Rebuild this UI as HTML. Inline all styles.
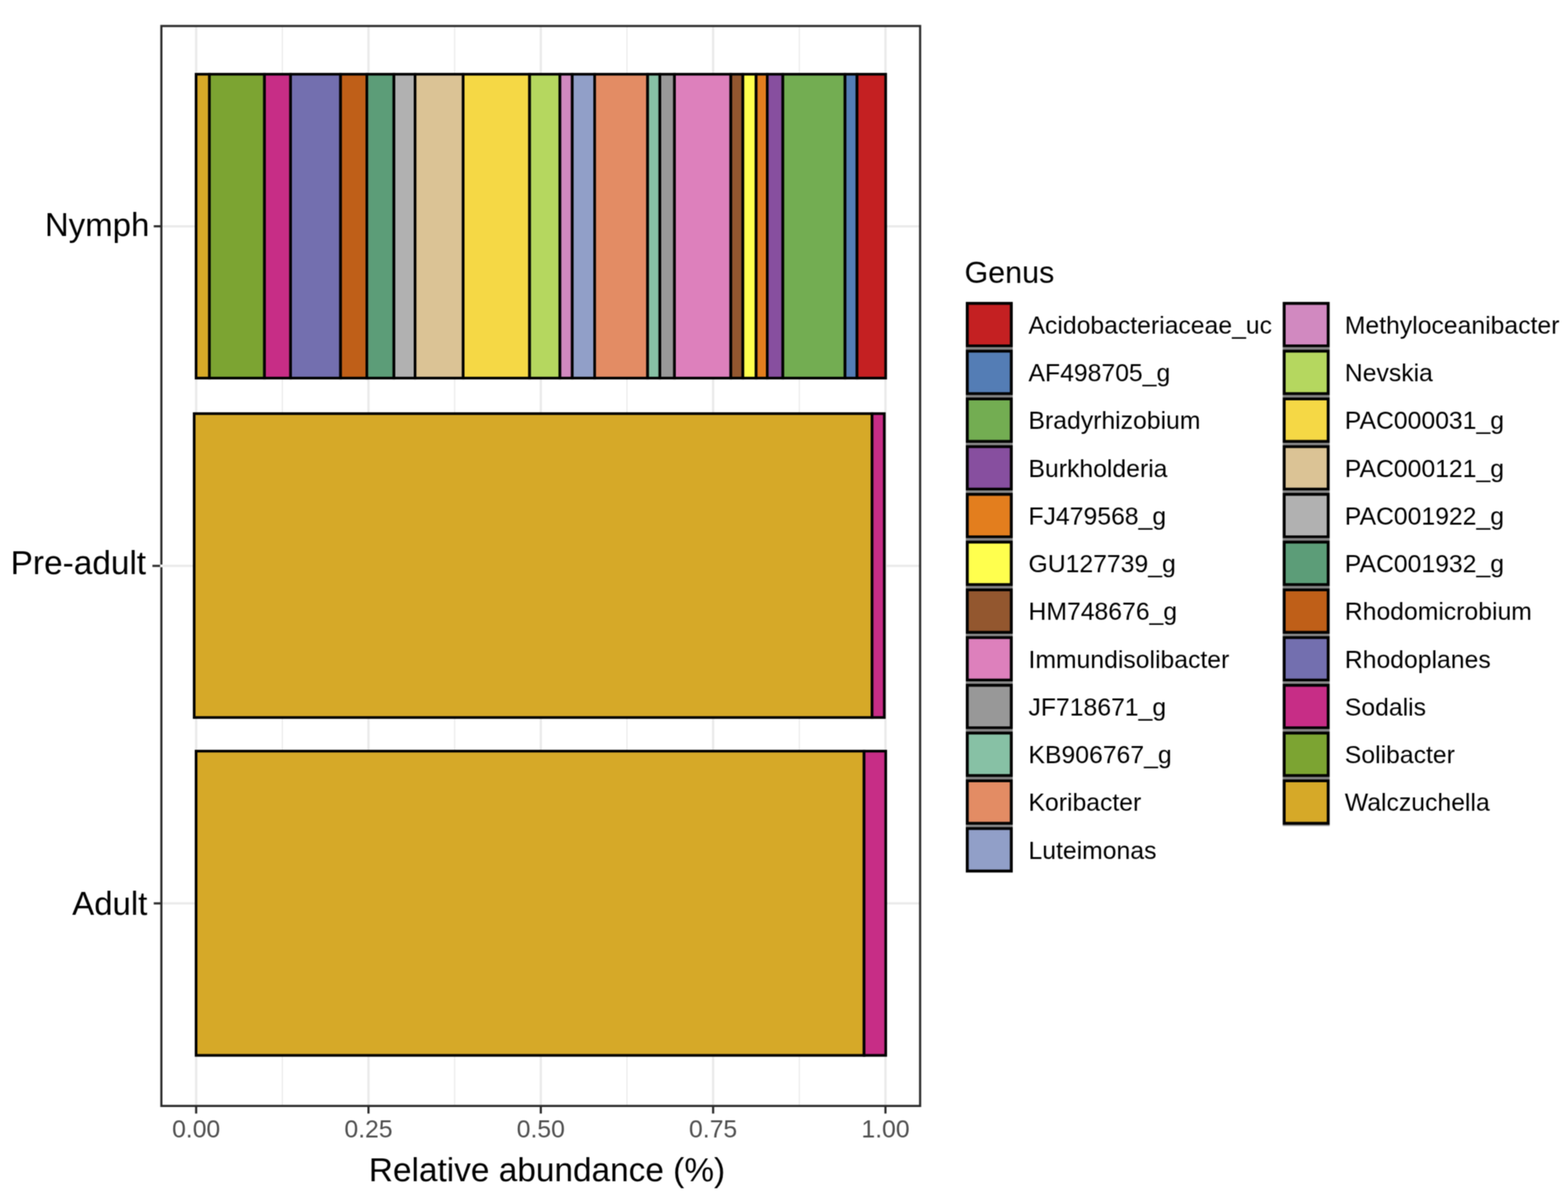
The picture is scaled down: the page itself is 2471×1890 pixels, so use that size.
<!DOCTYPE html>
<html><head><meta charset="utf-8"><title>Relative abundance</title><style>html,body{margin:0;padding:0;background:#fff;}svg{display:block;}</style></head><body>
<svg width="2471" height="1890" viewBox="0 0 2471 1890">
<defs><filter id="sm" color-interpolation-filters="sRGB" x="0" y="0" width="100%" height="100%" filterUnits="userSpaceOnUse" primitiveUnits="userSpaceOnUse"><feConvolveMatrix order="3" kernelMatrix="1 2 1 2 4 2 1 2 1" edgeMode="duplicate" preserveAlpha="true"/></filter></defs>
<g filter="url(#sm)">
<rect x="0" y="0" width="2471" height="1890" fill="#FFFFFF"/>
<line x1="444.89" y1="41.0" x2="444.89" y2="1743.3" stroke="#EAEAEA" stroke-width="1.8"/>
<line x1="716.46" y1="41.0" x2="716.46" y2="1743.3" stroke="#EAEAEA" stroke-width="1.8"/>
<line x1="988.04" y1="41.0" x2="988.04" y2="1743.3" stroke="#EAEAEA" stroke-width="1.8"/>
<line x1="1259.61" y1="41.0" x2="1259.61" y2="1743.3" stroke="#EAEAEA" stroke-width="1.8"/>
<line x1="309.10" y1="41.0" x2="309.10" y2="1743.3" stroke="#EAEAEA" stroke-width="3.6"/>
<line x1="580.67" y1="41.0" x2="580.67" y2="1743.3" stroke="#EAEAEA" stroke-width="3.6"/>
<line x1="852.25" y1="41.0" x2="852.25" y2="1743.3" stroke="#EAEAEA" stroke-width="3.6"/>
<line x1="1123.82" y1="41.0" x2="1123.82" y2="1743.3" stroke="#EAEAEA" stroke-width="3.6"/>
<line x1="1395.40" y1="41.0" x2="1395.40" y2="1743.3" stroke="#EAEAEA" stroke-width="3.6"/>
<line x1="254.3" y1="356.7" x2="1450" y2="356.7" stroke="#EAEAEA" stroke-width="3.6"/>
<line x1="254.3" y1="892.0" x2="1450" y2="892.0" stroke="#EAEAEA" stroke-width="3.6"/>
<line x1="254.3" y1="1424.0" x2="1450" y2="1424.0" stroke="#EAEAEA" stroke-width="3.6"/>
<rect x="309.00" y="117.00" width="21.00" height="479.00" fill="#D6A928" stroke="#000" stroke-width="4.2"/>
<rect x="330.00" y="117.00" width="86.80" height="479.00" fill="#7CA432" stroke="#000" stroke-width="4.2"/>
<rect x="416.80" y="117.00" width="41.10" height="479.00" fill="#C72D86" stroke="#000" stroke-width="4.2"/>
<rect x="457.90" y="117.00" width="78.80" height="479.00" fill="#736FAF" stroke="#000" stroke-width="4.2"/>
<rect x="536.70" y="117.00" width="41.40" height="479.00" fill="#BF5F18" stroke="#000" stroke-width="4.2"/>
<rect x="578.10" y="117.00" width="42.70" height="479.00" fill="#5C9D78" stroke="#000" stroke-width="4.2"/>
<rect x="620.80" y="117.00" width="33.30" height="479.00" fill="#B1B1B1" stroke="#000" stroke-width="4.2"/>
<rect x="654.10" y="117.00" width="75.80" height="479.00" fill="#DBC395" stroke="#000" stroke-width="4.2"/>
<rect x="729.90" y="117.00" width="104.70" height="479.00" fill="#F5D845" stroke="#000" stroke-width="4.2"/>
<rect x="834.60" y="117.00" width="47.80" height="479.00" fill="#B5D75F" stroke="#000" stroke-width="4.2"/>
<rect x="882.40" y="117.00" width="19.40" height="479.00" fill="#D189C0" stroke="#000" stroke-width="4.2"/>
<rect x="901.80" y="117.00" width="35.30" height="479.00" fill="#919FC8" stroke="#000" stroke-width="4.2"/>
<rect x="937.10" y="117.00" width="83.50" height="479.00" fill="#E38C64" stroke="#000" stroke-width="4.2"/>
<rect x="1020.60" y="117.00" width="19.30" height="479.00" fill="#87C1A5" stroke="#000" stroke-width="4.2"/>
<rect x="1039.90" y="117.00" width="23.00" height="479.00" fill="#989898" stroke="#000" stroke-width="4.2"/>
<rect x="1062.90" y="117.00" width="88.80" height="479.00" fill="#DD80BC" stroke="#000" stroke-width="4.2"/>
<rect x="1151.70" y="117.00" width="19.00" height="479.00" fill="#93572F" stroke="#000" stroke-width="4.2"/>
<rect x="1170.70" y="117.00" width="20.90" height="479.00" fill="#FFFF4E" stroke="#000" stroke-width="4.2"/>
<rect x="1191.60" y="117.00" width="17.50" height="479.00" fill="#E37E1E" stroke="#000" stroke-width="4.2"/>
<rect x="1209.10" y="117.00" width="24.60" height="479.00" fill="#874F9F" stroke="#000" stroke-width="4.2"/>
<rect x="1233.70" y="117.00" width="98.00" height="479.00" fill="#73AD52" stroke="#000" stroke-width="4.2"/>
<rect x="1331.70" y="117.00" width="18.90" height="479.00" fill="#547DB5" stroke="#000" stroke-width="4.2"/>
<rect x="1350.60" y="117.00" width="45.10" height="479.00" fill="#C42022" stroke="#000" stroke-width="4.2"/>
<rect x="306.00" y="652.00" width="1068.30" height="479.00" fill="#D6A928" stroke="#000" stroke-width="4.2"/>
<rect x="1374.30" y="652.00" width="19.30" height="479.00" fill="#C72D86" stroke="#000" stroke-width="4.2"/>
<rect x="309.00" y="1184.00" width="1052.70" height="479.60" fill="#D6A928" stroke="#000" stroke-width="4.2"/>
<rect x="1361.70" y="1184.00" width="34.10" height="479.60" fill="#C72D86" stroke="#000" stroke-width="4.2"/>
<rect x="254.3" y="41.0" width="1195.7" height="1702.3" fill="none" stroke="#2a2a2a" stroke-width="3.4"/>
<line x1="242.3" y1="356.7" x2="254.3" y2="356.7" stroke="#2a2a2a" stroke-width="3.4"/>
<rect x="252.2" y="889.9" width="5.4" height="4.3" fill="#F2F2F2"/>
<line x1="240.2" y1="892.0" x2="252.2" y2="892.0" stroke="#2a2a2a" stroke-width="3.4"/>
<line x1="242.3" y1="1424.0" x2="254.3" y2="1424.0" stroke="#2a2a2a" stroke-width="3.4"/>
<line x1="309.10" y1="1743.3" x2="309.10" y2="1755.3" stroke="#2a2a2a" stroke-width="3.4"/>
<line x1="580.67" y1="1743.3" x2="580.67" y2="1755.3" stroke="#2a2a2a" stroke-width="3.4"/>
<line x1="852.25" y1="1743.3" x2="852.25" y2="1755.3" stroke="#2a2a2a" stroke-width="3.4"/>
<line x1="1123.82" y1="1743.3" x2="1123.82" y2="1755.3" stroke="#2a2a2a" stroke-width="3.4"/>
<line x1="1395.40" y1="1743.3" x2="1395.40" y2="1755.3" stroke="#2a2a2a" stroke-width="3.4"/>
<text x="235.4" y="371.5" font-family="Liberation Sans, Arial, Helvetica, sans-serif" font-size="52" fill="#000" text-anchor="end">Nymph</text>
<text x="230.2" y="904.5" font-family="Liberation Sans, Arial, Helvetica, sans-serif" font-size="52.6" fill="#000" text-anchor="end">Pre-adult</text>
<text x="232.3" y="1441.5" font-family="Liberation Sans, Arial, Helvetica, sans-serif" font-size="52" fill="#000" text-anchor="end">Adult</text>
<text x="309.10" y="1793" font-family="Liberation Sans, Arial, Helvetica, sans-serif" font-size="39" fill="#4E4E4E" text-anchor="middle">0.00</text>
<text x="580.67" y="1793" font-family="Liberation Sans, Arial, Helvetica, sans-serif" font-size="39" fill="#4E4E4E" text-anchor="middle">0.25</text>
<text x="852.25" y="1793" font-family="Liberation Sans, Arial, Helvetica, sans-serif" font-size="39" fill="#4E4E4E" text-anchor="middle">0.50</text>
<text x="1123.82" y="1793" font-family="Liberation Sans, Arial, Helvetica, sans-serif" font-size="39" fill="#4E4E4E" text-anchor="middle">0.75</text>
<text x="1395.40" y="1793" font-family="Liberation Sans, Arial, Helvetica, sans-serif" font-size="39" fill="#4E4E4E" text-anchor="middle">1.00</text>
<text x="862.0" y="1862" font-family="Liberation Sans, Arial, Helvetica, sans-serif" font-size="52.6" fill="#000" text-anchor="middle">Relative abundance (%)</text>
<text x="1520" y="446.3" font-family="Liberation Sans, Arial, Helvetica, sans-serif" font-size="48" fill="#000">Genus</text>
<rect x="1522" y="475.90" width="74" height="71.7" fill="#000"/>
<rect x="1526.6" y="480.50" width="64.8" height="62.5" fill="#C42022"/>
<rect x="1522" y="547.60" width="74" height="3.55" fill="#858585"/>
<text x="1620.8" y="525.90" font-family="Liberation Sans, Arial, Helvetica, sans-serif" font-size="39" fill="#000">Acidobacteriaceae_uc</text>
<rect x="1522" y="551.15" width="74" height="71.7" fill="#000"/>
<rect x="1526.6" y="555.75" width="64.8" height="62.5" fill="#547DB5"/>
<rect x="1522" y="622.85" width="74" height="3.55" fill="#858585"/>
<text x="1620.8" y="601.15" font-family="Liberation Sans, Arial, Helvetica, sans-serif" font-size="39" fill="#000">AF498705_g</text>
<rect x="1522" y="626.40" width="74" height="71.7" fill="#000"/>
<rect x="1526.6" y="631.00" width="64.8" height="62.5" fill="#73AD52"/>
<rect x="1522" y="698.10" width="74" height="3.55" fill="#858585"/>
<text x="1620.8" y="676.40" font-family="Liberation Sans, Arial, Helvetica, sans-serif" font-size="39" fill="#000">Bradyrhizobium</text>
<rect x="1522" y="701.65" width="74" height="71.7" fill="#000"/>
<rect x="1526.6" y="706.25" width="64.8" height="62.5" fill="#874F9F"/>
<rect x="1522" y="773.35" width="74" height="3.55" fill="#858585"/>
<text x="1620.8" y="751.65" font-family="Liberation Sans, Arial, Helvetica, sans-serif" font-size="39" fill="#000">Burkholderia</text>
<rect x="1522" y="776.90" width="74" height="71.7" fill="#000"/>
<rect x="1526.6" y="781.50" width="64.8" height="62.5" fill="#E37E1E"/>
<rect x="1522" y="848.60" width="74" height="3.55" fill="#858585"/>
<text x="1620.8" y="826.90" font-family="Liberation Sans, Arial, Helvetica, sans-serif" font-size="39" fill="#000">FJ479568_g</text>
<rect x="1522" y="852.15" width="74" height="71.7" fill="#000"/>
<rect x="1526.6" y="856.75" width="64.8" height="62.5" fill="#FFFF4E"/>
<rect x="1522" y="923.85" width="74" height="3.55" fill="#858585"/>
<text x="1620.8" y="902.15" font-family="Liberation Sans, Arial, Helvetica, sans-serif" font-size="39" fill="#000">GU127739_g</text>
<rect x="1522" y="927.40" width="74" height="71.7" fill="#000"/>
<rect x="1526.6" y="932.00" width="64.8" height="62.5" fill="#93572F"/>
<rect x="1522" y="999.10" width="74" height="3.55" fill="#858585"/>
<text x="1620.8" y="977.40" font-family="Liberation Sans, Arial, Helvetica, sans-serif" font-size="39" fill="#000">HM748676_g</text>
<rect x="1522" y="1002.65" width="74" height="71.7" fill="#000"/>
<rect x="1526.6" y="1007.25" width="64.8" height="62.5" fill="#DD80BC"/>
<rect x="1522" y="1074.35" width="74" height="3.55" fill="#858585"/>
<text x="1620.8" y="1052.65" font-family="Liberation Sans, Arial, Helvetica, sans-serif" font-size="39" fill="#000">Immundisolibacter</text>
<rect x="1522" y="1077.90" width="74" height="71.7" fill="#000"/>
<rect x="1526.6" y="1082.50" width="64.8" height="62.5" fill="#989898"/>
<rect x="1522" y="1149.60" width="74" height="3.55" fill="#858585"/>
<text x="1620.8" y="1127.90" font-family="Liberation Sans, Arial, Helvetica, sans-serif" font-size="39" fill="#000">JF718671_g</text>
<rect x="1522" y="1153.15" width="74" height="71.7" fill="#000"/>
<rect x="1526.6" y="1157.75" width="64.8" height="62.5" fill="#87C1A5"/>
<rect x="1522" y="1224.85" width="74" height="3.55" fill="#858585"/>
<text x="1620.8" y="1203.15" font-family="Liberation Sans, Arial, Helvetica, sans-serif" font-size="39" fill="#000">KB906767_g</text>
<rect x="1522" y="1228.40" width="74" height="71.7" fill="#000"/>
<rect x="1526.6" y="1233.00" width="64.8" height="62.5" fill="#E38C64"/>
<rect x="1522" y="1300.10" width="74" height="3.55" fill="#858585"/>
<text x="1620.8" y="1278.40" font-family="Liberation Sans, Arial, Helvetica, sans-serif" font-size="39" fill="#000">Koribacter</text>
<rect x="1522" y="1303.65" width="74" height="71.7" fill="#000"/>
<rect x="1526.6" y="1308.25" width="64.8" height="62.5" fill="#919FC8"/>
<text x="1620.8" y="1353.65" font-family="Liberation Sans, Arial, Helvetica, sans-serif" font-size="39" fill="#000">Luteimonas</text>
<rect x="2021.4" y="475.90" width="74" height="71.7" fill="#000"/>
<rect x="2026.0" y="480.50" width="64.8" height="62.5" fill="#D189C0"/>
<rect x="2021.4" y="547.60" width="74" height="3.55" fill="#858585"/>
<text x="2119.3" y="525.90" font-family="Liberation Sans, Arial, Helvetica, sans-serif" font-size="39" fill="#000">Methyloceanibacter</text>
<rect x="2021.4" y="551.15" width="74" height="71.7" fill="#000"/>
<rect x="2026.0" y="555.75" width="64.8" height="62.5" fill="#B5D75F"/>
<rect x="2021.4" y="622.85" width="74" height="3.55" fill="#858585"/>
<text x="2119.3" y="601.15" font-family="Liberation Sans, Arial, Helvetica, sans-serif" font-size="39" fill="#000">Nevskia</text>
<rect x="2021.4" y="626.40" width="74" height="71.7" fill="#000"/>
<rect x="2026.0" y="631.00" width="64.8" height="62.5" fill="#F5D845"/>
<rect x="2021.4" y="698.10" width="74" height="3.55" fill="#858585"/>
<text x="2119.3" y="676.40" font-family="Liberation Sans, Arial, Helvetica, sans-serif" font-size="39" fill="#000">PAC000031_g</text>
<rect x="2021.4" y="701.65" width="74" height="71.7" fill="#000"/>
<rect x="2026.0" y="706.25" width="64.8" height="62.5" fill="#DBC395"/>
<rect x="2021.4" y="773.35" width="74" height="3.55" fill="#858585"/>
<text x="2119.3" y="751.65" font-family="Liberation Sans, Arial, Helvetica, sans-serif" font-size="39" fill="#000">PAC000121_g</text>
<rect x="2021.4" y="776.90" width="74" height="71.7" fill="#000"/>
<rect x="2026.0" y="781.50" width="64.8" height="62.5" fill="#B1B1B1"/>
<rect x="2021.4" y="848.60" width="74" height="3.55" fill="#858585"/>
<text x="2119.3" y="826.90" font-family="Liberation Sans, Arial, Helvetica, sans-serif" font-size="39" fill="#000">PAC001922_g</text>
<rect x="2021.4" y="852.15" width="74" height="71.7" fill="#000"/>
<rect x="2026.0" y="856.75" width="64.8" height="62.5" fill="#5C9D78"/>
<rect x="2021.4" y="923.85" width="74" height="3.55" fill="#858585"/>
<text x="2119.3" y="902.15" font-family="Liberation Sans, Arial, Helvetica, sans-serif" font-size="39" fill="#000">PAC001932_g</text>
<rect x="2021.4" y="927.40" width="74" height="71.7" fill="#000"/>
<rect x="2026.0" y="932.00" width="64.8" height="62.5" fill="#BF5F18"/>
<rect x="2021.4" y="999.10" width="74" height="3.55" fill="#858585"/>
<text x="2119.3" y="977.40" font-family="Liberation Sans, Arial, Helvetica, sans-serif" font-size="39" fill="#000">Rhodomicrobium</text>
<rect x="2021.4" y="1002.65" width="74" height="71.7" fill="#000"/>
<rect x="2026.0" y="1007.25" width="64.8" height="62.5" fill="#736FAF"/>
<rect x="2021.4" y="1074.35" width="74" height="3.55" fill="#858585"/>
<text x="2119.3" y="1052.65" font-family="Liberation Sans, Arial, Helvetica, sans-serif" font-size="39" fill="#000">Rhodoplanes</text>
<rect x="2021.4" y="1077.90" width="74" height="71.7" fill="#000"/>
<rect x="2026.0" y="1082.50" width="64.8" height="62.5" fill="#C72D86"/>
<rect x="2021.4" y="1149.60" width="74" height="3.55" fill="#858585"/>
<text x="2119.3" y="1127.90" font-family="Liberation Sans, Arial, Helvetica, sans-serif" font-size="39" fill="#000">Sodalis</text>
<rect x="2021.4" y="1153.15" width="74" height="71.7" fill="#000"/>
<rect x="2026.0" y="1157.75" width="64.8" height="62.5" fill="#7CA432"/>
<rect x="2021.4" y="1224.85" width="74" height="3.55" fill="#858585"/>
<text x="2119.3" y="1203.15" font-family="Liberation Sans, Arial, Helvetica, sans-serif" font-size="39" fill="#000">Solibacter</text>
<rect x="2021.4" y="1228.40" width="74" height="71.7" fill="#000"/>
<rect x="2026.0" y="1233.00" width="64.8" height="62.5" fill="#D6A928"/>
<rect x="2021.4" y="1300.10" width="74" height="2" fill="#939393"/>
<text x="2119.3" y="1278.40" font-family="Liberation Sans, Arial, Helvetica, sans-serif" font-size="39" fill="#000">Walczuchella</text>
</g>
</svg>
</body></html>
